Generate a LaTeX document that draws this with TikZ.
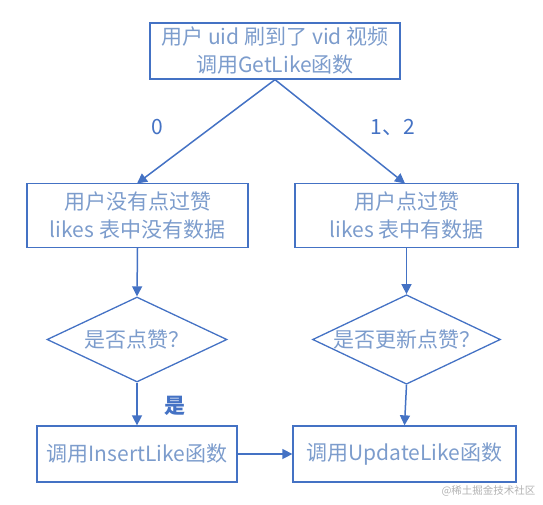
\documentclass[tikz,border=0pt]{standalone}
\usepackage{fontspec}
\setmainfont{Noto Sans CJK SC}
\usetikzlibrary{shapes.geometric,arrows.meta}
\definecolor{bline}{HTML}{4472C4}
\definecolor{btext}{HTML}{7C9CCC}
\tikzset{
  box/.style={draw=bline,line width=1.3pt,rectangle,inner sep=0pt,text=btext,font=\fontsize{21}{28}\selectfont,align=center},
  dia/.style={draw=bline,line width=1.3pt,diamond,inner sep=0pt,text=btext,font=\fontsize{21}{28}\selectfont,minimum width=180pt,minimum height=85pt,aspect=2.1},
  arr/.style={draw=bline,line width=1.5pt,-{Triangle[length=10pt,width=10pt]}},
  lbl/.style={text=bline,font=\fontsize{21}{24}\selectfont}
}
\begin{document}
\begin{tikzpicture}[x=1pt,y=-1pt]
\useasboundingbox (0,0) rectangle (543,504);
\node[box,minimum width=250pt,minimum height=56pt] (top) at (275,51) {用户 uid 刷到了 vid 视频\\调用GetLike函数};
\node[box,minimum width=221pt,minimum height=64pt] (l1) at (137.5,215.5) {用户没有点过赞\\likes 表中没有数据};
\node[box,minimum width=223pt,minimum height=64pt] (r1) at (406.5,215.5) {用户点过赞\\likes 表中有数据};
\node[dia,minimum width=180pt,minimum height=85pt] (ld) at (137,339.5) {是否点赞？};
\node[dia,minimum width=180pt,minimum height=85pt] (rd) at (406.5,339.5) {是否更新点赞？};
\node[box,minimum width=200pt,minimum height=56pt] (l2) at (137,454) {调用InsertLike函数};
\node[box,minimum width=223pt,minimum height=56pt] (r2) at (404.5,454) {调用UpdateLike函数};
\draw[arr] (top.south) -- (137,183.5);
\draw[arr] (top.south) -- (405,183.5);
\draw[arr] (l1.south) -- (ld.north);
\draw[arr] (r1.south) -- (rd.north);
\draw[arr] (ld.south) -- (l2.north);
\draw[arr] (rd.south) -- (r2.north);
\draw[arr] (l2.east) -- (r2.west);
\node[lbl] (n0) at (157,127) {0};
\node[lbl] (n12) at (393,127) {1、2};
\node[lbl,font=\bfseries\fontsize{21}{24}\selectfont] (yes) at (175,406) {是};
\node[text=gray!60,font=\fontsize{10.5}{12}\selectfont,anchor=east] (wm) at (539,491) {@稀土掘金技术社区};
\end{tikzpicture}
\end{document}
